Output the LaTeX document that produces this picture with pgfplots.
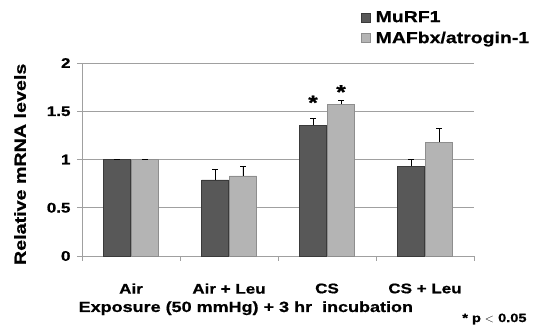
\documentclass[border=0pt]{standalone}
\usepackage{fontspec}
\setmainfont{Liberation Sans Bold}[FakeStretch=1.22, FakeBold=0.8]
\usepackage{pgfplots}
\pgfplotsset{compat=1.18}
\definecolor{darkE}{HTML}{3A3A3A}
\definecolor{darkM}{HTML}{585858}
\definecolor{lightE}{HTML}{8E8E8E}
\definecolor{lightM}{HTML}{B4B4B4}
\definecolor{axgray}{HTML}{A0A0A0}
\begin{document}
\begin{tikzpicture}
\useasboundingbox (0,0) rectangle (541bp,330bp);
\begin{axis}[
  at={(82bp,74bp)}, anchor=south west,
  scale only axis, width=392bp, height=193bp,
  clip=false,
  ymin=0, ymax=2, xmin=-0.5, xmax=3.5,
  axis lines=left, axis line style={-, draw=axgray, line width=0.8pt},
  ytick={0,0.5,1,1.5,2}, yticklabels={0,0.5,1,1.5,2},
  ymajorgrids, grid style={axgray, line width=0.8pt},
  xtick={0,1,2,3}, xticklabels={Air, Air + Leu, CS, CS + Leu},
  major x tick style={draw=none},
  minor xtick={-0.5,0.5,1.5,2.5,3.5},
  minor x tick style={axgray, line width=0.8pt},
  ytick style={axgray, line width=0.8pt},
  minor tick length=5bp, major tick length=5bp,
  tick align=outside,
  tick label style={font=\fontsize{14}{16}\selectfont},
  xticklabel style={yshift=-19bp},
  yticklabel style={xshift=-3bp},
  xlabel={Exposure (50 mmHg) + 3 hr\ \ incubation},
  xlabel style={at={(axis description cs:0.418,-0.29)}, anchor=base, font=\fontsize{14.8}{16}\selectfont},
  ylabel={Relative mRNA levels},
  ylabel style={at={(axis description cs:-0.158,0.475)}, anchor=center, font=\fontsize{16.2}{18}\selectfont},
  ybar=1pt, bar width=27bp,
  legend style={at={(axis description cs:0.712,1.28)}, anchor=north west, draw=none, fill=none,
    font=\fontsize{16}{18}\selectfont, row sep=4bp, inner sep=0pt},
  legend cell align=left,
  legend image code/.code={\draw[#1] (0bp,-4.5bp) rectangle (9bp,4.5bp);},
  error bars/y dir=plus, error bars/y explicit,
  error bars/error bar style={black, line width=0.6pt},
  error bars/error mark options={rotate=90, mark size=3bp, black, line width=0.6pt},
]
\addplot[draw=darkE, fill=darkM]
  coordinates {(0,1) +- (0,0.005) (1,0.79) +- (0,0.11) (2,1.355) +- (0,0.075) (3,0.93) +- (0,0.07)};
\addlegendentry{\hspace{3bp}MuRF1}
\addplot[draw=lightE, fill=lightM]
  coordinates {(0,1) +- (0,0.005) (1,0.83) +- (0,0.10) (2,1.57) +- (0,0.04) (3,1.18) +- (0,0.14)};
\addlegendentry{\hspace{3bp}MAFbx/atrogin-1}
\node[font=\fontsize{20}{20}\selectfont] at (axis cs:2,1.59) [xshift=-14bp] {*};
\node[font=\fontsize{20}{20}\selectfont] at (axis cs:2,1.70) [xshift=14bp] {*};
\node[anchor=base east, font=\fontsize{12}{14}\selectfont] at (axis description cs:1.143,-0.342) {* p {\fontfamily{lmr}\selectfont<} 0.05};
\end{axis}
\end{tikzpicture}
\end{document}
